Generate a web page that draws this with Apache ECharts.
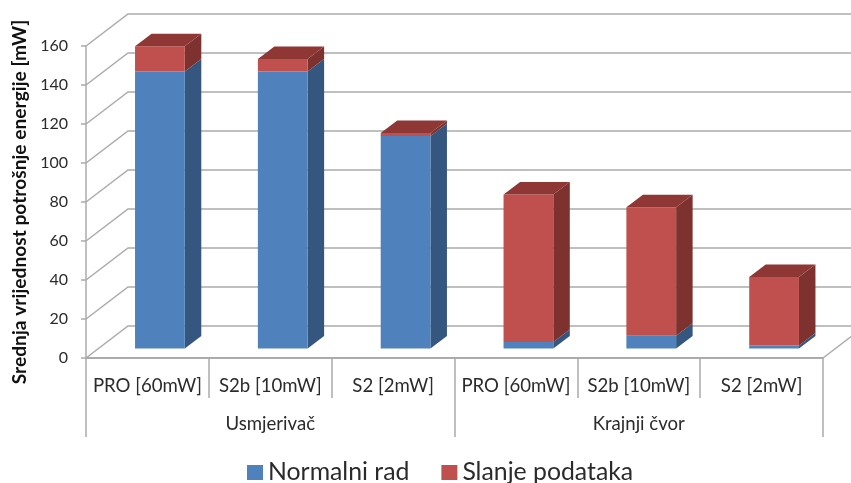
<!DOCTYPE html>
<html><head><meta charset="utf-8">
<style>html,body{margin:0;padding:0;background:#fff}#c{width:851px;height:483px}</style>
<script src="https://cdn.jsdelivr.net/npm/echarts@6/dist/echarts.min.js"></script>
</head><body><div id="c"></div>
<script>
const categories = ['PRO [60mW]','S2b [10mW]','S2 [2mW]','PRO [60mW]','S2b [10mW]','S2 [2mW]'];
const groups = ['Usmjerivač','Krajnji čvor'];
const normalniRad = [142, 142, 109, 3.3, 6.5, 1.5];
const slanjePodataka = [13, 6.5, 1.5, 75.7, 66, 35.2];
const valueTicks = [0,20,40,60,80,100,120,140,160];

const FONT = 'Lato, "Open Sans", sans-serif';
const GRID = '#ababab', TXT = '#2b2b2b';
const WALL_DX = 42, WALL_DY = -32;
const BAR_DX = 12.5, BAR_DY = -9.5, DEPTH_DX = 16.5, DEPTH_DY = -12.5, BAR_W = 0.405;

function wall(params, api) {
  const cs = params.coordSys;
  const p = api.coord([0, api.value(1)]);
  const x0 = cs.x, y = p[1];
  const children = [{
    type: 'polyline',
    shape: { points: [[x0, y], [x0 + WALL_DX, y + WALL_DY], [x0 + cs.width + WALL_DX, y + WALL_DY]] },
    style: { fill: null, stroke: GRID, lineWidth: 1.5 }
  }];
  if (api.value(1) === 0) {
    children.push({
      type: 'line',
      shape: { x1: x0 + cs.width, y1: y, x2: x0 + cs.width + WALL_DX, y2: y + WALL_DY },
      style: { stroke: GRID, lineWidth: 1.5 }
    });
  }
  return { type: 'group', children };
}

function bar(front, side, top) {
  return function (params, api) {
    const i = api.value(0);
    const a = api.coord([i, api.value(1)]);
    const b = api.coord([i, api.value(2)]);
    const w = api.size([1, 0])[0] * BAR_W;
    const l = a[0] + BAR_DX - w / 2, r = l + w;
    const y0 = a[1] + BAR_DY, y1 = b[1] + BAR_DY;
    const dx = DEPTH_DX, dy = DEPTH_DY;
    const children = [
      { type: 'polygon', shape: { points: [[r, y0], [r + dx, y0 + dy], [r + dx, y1 + dy], [r, y1]] }, style: { fill: side } },
      { type: 'rect', shape: { x: l, y: y1, width: w, height: y0 - y1 }, style: { fill: front } }
    ];
    if (top) {
      children.push({ type: 'polygon', shape: { points: [[l, y1], [r, y1], [r + dx, y1 + dy], [l + dx, y1 + dy]] }, style: { fill: top } });
    }
    return { type: 'group', children };
  };
}

const baseRows = normalniRad.map((v, i) => [i, 0, v]);
const topRows = slanjePodataka.map((v, i) => [i, normalniRad[i], normalniRad[i] + v]);

const chart = echarts.init(document.getElementById('c'), null, { renderer: 'canvas' });
chart.setOption({
  animation: false,
  backgroundColor: '#fff',
  textStyle: { fontFamily: FONT },
  grid: { left: 86, right: 28, top: 46, bottom: 125, containLabel: false, outerBoundsMode: 'none' },
  legend: {
    data: ['Normalni rad', 'Slanje podataka'],
    left: 247, top: 460, itemWidth: 16, itemHeight: 15, itemGap: 32, icon: 'rect',
    textStyle: { fontFamily: FONT, fontSize: 24.8, color: TXT }, padding: 0
  },
  xAxis: [
    { type: 'category', data: categories, position: 'bottom',
      axisLine: { lineStyle: { color: GRID, width: 2 } },
      axisTick: { show: true, length: 40, lineStyle: { color: GRID, width: 1.5 } },
      axisLabel: { interval: 0, margin: 18, fontFamily: FONT, fontSize: 18.6, color: TXT } },
    { type: 'category', data: groups, position: 'bottom',
      axisLine: { show: false },
      axisTick: { show: true, length: 79, lineStyle: { color: GRID, width: 1.5 } },
      axisLabel: { interval: 0, margin: 56, fontFamily: FONT, fontSize: 18.6, color: TXT } }
  ],
  yAxis: {
    type: 'value', min: 0, max: 160, interval: 20,
    name: 'Srednja vrijednost potrošnje energije [mW]',
    nameLocation: 'middle', nameGap: 56,
    nameTextStyle: { fontFamily: FONT, fontSize: 19.2, fontWeight: 'bold', color: '#111' },
    axisLine: { show: true, lineStyle: { color: GRID, width: 1.5 } },
    axisTick: { show: true, length: 5, lineStyle: { color: GRID, width: 1.5 } },
    axisLabel: { margin: 18, fontFamily: FONT, fontSize: 16, color: TXT },
    splitLine: { show: false }
  },
  series: [
    { type: 'custom', name: 'zid', silent: true, clip: false, z: 1, renderItem: wall,
      data: valueTicks.map(v => [0, v]), encode: { x: 0, y: 1 } },
    { type: 'custom', name: 'Normalni rad', clip: false, z: 3, renderItem: bar('#4F81BD', '#34567F'),
      itemStyle: { color: '#4F81BD' }, data: baseRows, encode: { x: 0, y: [1, 2] } },
    { type: 'custom', name: 'Slanje podataka', clip: false, z: 4, renderItem: bar('#C0504D', '#7D3230', '#8E3735'),
      itemStyle: { color: '#C0504D' }, data: topRows, encode: { x: 0, y: [1, 2] } }
  ]
});
</script></body></html>
